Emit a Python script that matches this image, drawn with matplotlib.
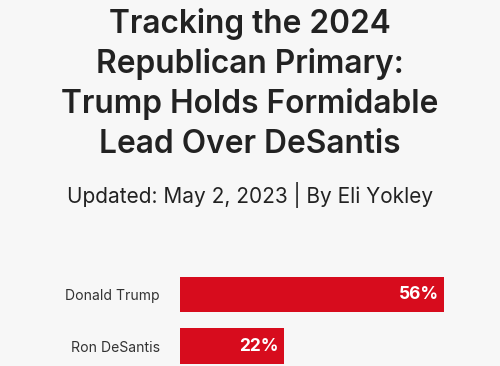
import matplotlib.pyplot as plt

# data
candidates = ["Donald Trump", "Ron DeSantis"]
support = [56, 22]
title_lines = ["Tracking the 2024", "Republican Primary:",
               "Trump Holds Formidable", "Lead Over DeSantis"]
subtitle = "Updated: May 2, 2023 | By Eli Yokley"

plt.rcParams['font.family'] = ['Inter', 'DejaVu Sans']

W, H = 500, 366
fig = plt.figure(figsize=(W / 100, H / 100), dpi=100)
fig.patch.set_facecolor('#f7f7f7')

# title block, baselines in pixels from top
for i, line in enumerate(title_lines):
    fig.text(0.5, 1 - (33 + 40 * i) / H, line, ha='center', va='baseline',
             fontsize=22.8, fontweight='semibold', color='#222222')
fig.text(0.5, 1 - 203 / H, subtitle, ha='center', va='baseline',
         fontsize=15, color='#222222')

# bar area
ax = fig.add_axes([180 / W, 0, 320 / W, 100 / H])
ax.set_facecolor('none')
ypos = list(range(len(candidates)))
bars = ax.barh(ypos, support, height=0.68, color='#d70c1d')
ax.set_xlim(0, 68)
ax.set_ylim(1.388, -0.553)
for s in ax.spines.values():
    s.set_visible(False)
ax.set_xticks([])
ax.set_yticks(ypos)
ax.set_yticklabels(candidates, fontsize=10.1, color='#333333')
ax.tick_params(axis='y', length=0, pad=14.4)

for y, v in zip(ypos, support):
    ax.text(v - 1.0, y, f"{v}%", ha='right', va='center', color='white',
            fontsize=12.5, fontweight='bold')

fig.savefig('out.png', dpi=100, facecolor=fig.get_facecolor())
